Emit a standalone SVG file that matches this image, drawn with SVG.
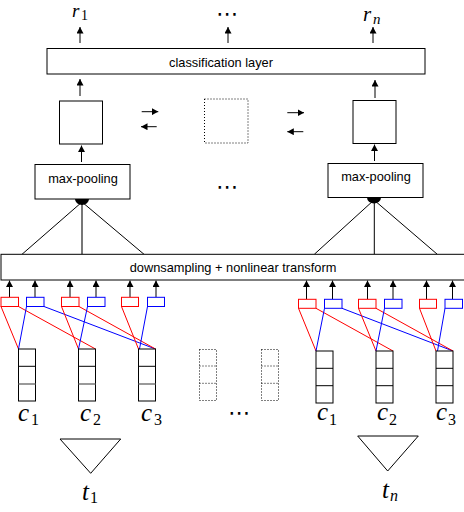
<svg xmlns="http://www.w3.org/2000/svg" width="464" height="512" viewBox="0 0 464 512">
<defs>
<marker id="ah" viewBox="0 0 6.5 7" refX="6.5" refY="3.5" markerWidth="6.5" markerHeight="7" markerUnits="userSpaceOnUse" orient="auto">
<path d="M0,0 L6.5,3.5 L0,7 Z" fill="#000"/>
</marker>
<style>
.box{fill:#fff;stroke:#000;stroke-width:1}
.dot{fill:none;stroke:#000;stroke-width:1;stroke-dasharray:1 2}
.lbl{font-family:"Liberation Sans",Arial,sans-serif;font-size:12.8px;fill:#000;text-anchor:middle}
.m{font-family:"Liberation Serif","Times New Roman",serif;font-style:italic;fill:#000}
.mb{font-size:25px}
.ms{font-size:16px}
.dots{font-family:"DejaVu Sans",sans-serif;font-size:22px;text-anchor:middle;fill:#000}
.arr{stroke:#000;stroke-width:1;fill:none;marker-end:url(#ah)}
.ln{stroke:#000;stroke-width:1;fill:none}
.r{fill:#fff;stroke:#f00;stroke-width:1}
.b{fill:#fff;stroke:#00f;stroke-width:1}
.rl{stroke:#f00;stroke-width:1;fill:none}
.bl{stroke:#00f;stroke-width:1;fill:none}
.tri{fill:#fff;stroke:#000;stroke-width:1}
</style>
</defs>

<g id="connectors">
<line class="arr" x1="80" y1="43" x2="80" y2="27"/>
<line class="arr" x1="228" y1="43" x2="228" y2="27"/>
<line class="arr" x1="373" y1="43" x2="373" y2="27"/>
<line class="arr" x1="80" y1="96" x2="80" y2="79"/>
<line class="arr" x1="375" y1="98" x2="375" y2="80"/>
<line class="arr" x1="141.7" y1="111.7" x2="158.3" y2="111.7"/>
<line class="arr" x1="156.7" y1="126.7" x2="141" y2="126.7"/>
<line class="arr" x1="287.3" y1="112.7" x2="304" y2="112.7"/>
<line class="arr" x1="303.3" y1="131.7" x2="287.3" y2="131.7"/>
<line class="arr" x1="81.5" y1="162" x2="81.5" y2="145.5"/>
<line class="arr" x1="374.5" y1="161" x2="374.5" y2="144.5"/>
<line class="ln" x1="82" y1="202" x2="22" y2="254.3"/>
<line class="ln" x1="82" y1="202" x2="82" y2="254.3" style="stroke:#777;stroke-width:2"/>
<line class="ln" x1="82" y1="202" x2="144" y2="254.3"/>
<path d="M75,199 A7,6 0 0 0 89,199 Z" fill="#000"/>
<line class="ln" x1="374" y1="200" x2="314.3" y2="254.3"/>
<line class="ln" x1="374.3" y1="200" x2="374.3" y2="254.3"/>
<line class="ln" x1="374" y1="200" x2="437.3" y2="254.3"/>
<path d="M367,197.5 A7,6 0 0 0 381,197.5 Z" fill="#000"/>
<line class="arr" x1="9.5" y1="297.3" x2="9.5" y2="280.5"/>
<line class="arr" x1="35" y1="297.3" x2="35" y2="280.5"/>
<line class="arr" x1="70" y1="297.3" x2="70" y2="280.5"/>
<line class="arr" x1="96" y1="297.3" x2="96" y2="280.5"/>
<line class="arr" x1="130" y1="297.3" x2="130" y2="280.5"/>
<line class="arr" x1="156" y1="297.3" x2="156" y2="280.5"/>
<line class="arr" x1="306.5" y1="299.3" x2="306.5" y2="280.5"/>
<line class="arr" x1="332.5" y1="299.3" x2="332.5" y2="280.5"/>
<line class="arr" x1="367.5" y1="299.3" x2="367.5" y2="280.5"/>
<line class="arr" x1="393" y1="299.3" x2="393" y2="280.5"/>
<line class="arr" x1="426.5" y1="299.3" x2="426.5" y2="280.5"/>
<line class="arr" x1="452.5" y1="299.3" x2="452.5" y2="280.5"/>
<line class="rl" x1="1" y1="306.5" x2="18.5" y2="349"/>
<line class="rl" x1="18.5" y1="306.5" x2="95.5" y2="349"/>
<line class="bl" x1="26.5" y1="306.5" x2="18.5" y2="349"/>
<line class="bl" x1="44" y1="306.5" x2="155.5" y2="349"/>
<line class="rl" x1="61.5" y1="306.5" x2="78.5" y2="349"/>
<line class="rl" x1="79" y1="306.5" x2="155.5" y2="349"/>
<line class="bl" x1="87.5" y1="306.5" x2="78.5" y2="349"/>
<line class="rl" x1="121.5" y1="306.5" x2="138.5" y2="349"/>
<line class="bl" x1="147.5" y1="306.5" x2="139.5" y2="349"/>
<line class="rl" x1="298.5" y1="308.3" x2="316" y2="351"/>
<line class="rl" x1="316" y1="308.3" x2="393" y2="351"/>
<line class="bl" x1="324.5" y1="308.3" x2="316" y2="351"/>
<line class="bl" x1="342" y1="308.3" x2="453" y2="351"/>
<line class="rl" x1="358.5" y1="308.3" x2="376" y2="351"/>
<line class="rl" x1="376" y1="308.3" x2="453" y2="351"/>
<line class="bl" x1="384.5" y1="308.3" x2="376" y2="351"/>
<line class="rl" x1="419.5" y1="308.3" x2="436" y2="351"/>
<line class="bl" x1="445" y1="308.3" x2="437.5" y2="351"/>
</g>

<g id="outputs">
<text class="m" x="72" y="17" style="font-size:19px">r</text><text class="m" x="81" y="20" style="font-size:14px;font-style:normal">1</text>
<text class="dots" x="227" y="21">⋯</text>
<text class="m" x="363" y="20.5" style="font-size:21px">r</text><text class="m" x="373" y="23.5" style="font-size:15px">n</text>
</g>

<g id="classification">
<rect class="box" x="47" y="48.5" width="378" height="25.5"/>
<text class="lbl" x="221" y="66.5">classification layer</text>
</g>

<g id="state1"><rect class="box" x="59.5" y="101" width="43" height="43"/></g>
<g id="stateDots"><rect class="dot" x="204.5" y="99" width="43.5" height="44"/></g>
<g id="stateN"><rect class="box" x="353" y="100.5" width="43" height="43"/></g>

<g id="maxpool1">
<rect class="box" x="35" y="164.5" width="95" height="34.5"/>
<text class="lbl" x="83" y="183">max-pooling</text>
</g>
<g id="poolDots"><text class="dots" x="227" y="194">⋯</text></g>
<g id="maxpoolN">
<rect class="box" x="328" y="163.5" width="95" height="34"/>
<text class="lbl" x="376" y="181">max-pooling</text>
</g>

<g id="downsampling">
<rect class="box" x="1" y="254.3" width="475" height="25.7"/>
<text class="lbl" x="233" y="272">downsampling + nonlinear transform</text>
</g>

<g id="filters1">
<rect class="r" x="1" y="297.3" width="17.5" height="9.2"/>
<rect class="b" x="26.5" y="297.3" width="17.5" height="9.2"/>
<rect class="r" x="61.5" y="297.3" width="17.5" height="9.2"/>
<rect class="b" x="87.5" y="297.3" width="17.5" height="9.2"/>
<rect class="r" x="121.5" y="297.3" width="17" height="9.2"/>
<rect class="b" x="147.5" y="297.3" width="17" height="9.2"/>
</g>
<g id="filtersN">
<rect class="r" x="298.5" y="299.3" width="17.5" height="9"/>
<rect class="b" x="324.5" y="299.3" width="17.5" height="9"/>
<rect class="r" x="358.5" y="299.3" width="17.5" height="9"/>
<rect class="b" x="384.5" y="299.3" width="17.5" height="9"/>
<rect class="r" x="419.5" y="299.3" width="17" height="9"/>
<rect class="b" x="445" y="299.3" width="17.5" height="9"/>
</g>

<g id="chars1">
<g id="c1a"><rect class="box" x="18.5" y="349" width="17" height="52"/><line class="ln" x1="18.5" y1="366.3" x2="35.5" y2="366.3"/><line class="ln" x1="18.5" y1="384" x2="35.5" y2="384" style="stroke:#777;stroke-width:1.5"/></g>
<g id="c2a"><rect class="box" x="78.5" y="349" width="17" height="52"/><line class="ln" x1="78.5" y1="366.3" x2="95.5" y2="366.3"/><line class="ln" x1="78.5" y1="384" x2="95.5" y2="384" style="stroke:#777;stroke-width:1.5"/></g>
<g id="c3a"><rect class="box" x="138.5" y="349" width="17" height="52"/><line class="ln" x1="138.5" y1="366.3" x2="155.5" y2="366.3"/><line class="ln" x1="138.5" y1="384" x2="155.5" y2="384" style="stroke:#777;stroke-width:1.5"/></g>
<text class="m mb" x="18" y="420.5">c</text><text class="m ms" x="31" y="425" style="font-style:normal">1</text>
<text class="m mb" x="80" y="420.5">c</text><text class="m ms" x="93" y="425" style="font-style:normal">2</text>
<text class="m mb" x="141" y="420.5">c</text><text class="m ms" x="154" y="425" style="font-style:normal">3</text>
</g>

<g id="charsDots">
<rect class="dot" x="199.5" y="349.5" width="17" height="51"/>
<line class="dot" x1="199.5" y1="366" x2="216.5" y2="366"/><line class="dot" x1="199.5" y1="383.3" x2="216.5" y2="383.3"/>
<rect class="dot" x="261.5" y="349.5" width="17" height="51"/>
<line class="dot" x1="261.5" y1="366" x2="278.5" y2="366"/><line class="dot" x1="261.5" y1="383.3" x2="278.5" y2="383.3"/>
<text class="dots" x="239" y="420">⋯</text>
</g>

<g id="charsN">
<g id="c1n"><rect class="box" x="316" y="351" width="17" height="52"/><line class="ln" x1="316" y1="368.3" x2="333" y2="368.3"/><line class="ln" x1="316" y1="385.7" x2="333" y2="385.7"/></g>
<g id="c2n"><rect class="box" x="376" y="351" width="17" height="52"/><line class="ln" x1="376" y1="368.3" x2="393" y2="368.3"/><line class="ln" x1="376" y1="385.7" x2="393" y2="385.7"/></g>
<g id="c3n"><rect class="box" x="436" y="351" width="17" height="52"/><line class="ln" x1="436" y1="368.3" x2="453" y2="368.3"/><line class="ln" x1="436" y1="385.7" x2="453" y2="385.7"/></g>
<text class="m mb" x="317" y="420">c</text><text class="m ms" x="329" y="425" style="font-style:normal">1</text>
<text class="m mb" x="377" y="420">c</text><text class="m ms" x="389" y="425" style="font-style:normal">2</text>
<text class="m mb" x="436" y="420">c</text><text class="m ms" x="448" y="425" style="font-style:normal">3</text>
</g>

<g id="tree1">
<polygon class="tri" points="60,439 120.7,439 90.7,473.3"/>
<text class="m mb" x="82" y="500">t</text><text class="m ms" x="90" y="503" style="font-style:normal">1</text>
</g>
<g id="treeN">
<polygon class="tri" points="357.7,436 418.3,436 387.7,471"/>
<text class="m mb" x="382" y="498">t</text><text class="m ms" x="390" y="501">n</text>
</g>
</svg>
